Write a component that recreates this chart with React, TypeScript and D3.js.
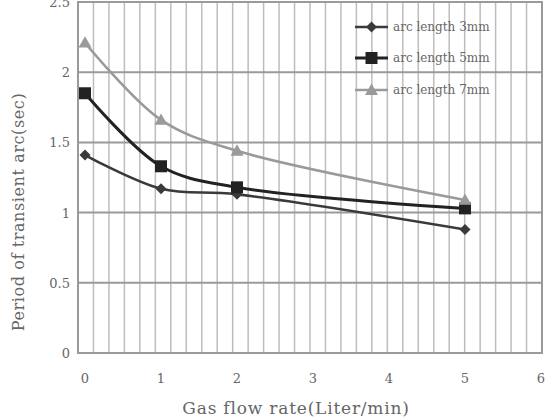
import React from "react";
import * as d3 from "d3";

const flowRates = [0, 1, 2, 5];
const arc3mm = [1.41, 1.17, 1.13, 0.88];
const arc5mm = [1.85, 1.33, 1.18, 1.03];
const arc7mm = [2.21, 1.66, 1.44, 1.09];
const seriesNames = ["arc length 3mm", "arc length 5mm", "arc length 7mm"];
const xTicks = [0, 1, 2, 3, 4, 5, 6];
const yTicks = [0, 0.5, 1, 1.5, 2, 2.5];

const W = 551;
const H = 420;
const frame = { left: 78, right: 542, top: 2, bottom: 353 };
const FONT = "'DejaVu Serif', 'Liberation Serif', serif";

export default function App() {
  const x = d3.scaleLinear().domain([0, 6]).range([85, 541]);
  const y = d3.scaleLinear().domain([0, 2.5]).range([frame.bottom, frame.top]);

  const series = [
    { name: seriesNames[0], values: arc3mm, color: "#3a3a3a", width: 2.6, marker: "diamond" },
    { name: seriesNames[1], values: arc5mm, color: "#222222", width: 3, marker: "square" },
    { name: seriesNames[2], values: arc7mm, color: "#9a9a9a", width: 2.6, marker: "triangle" },
  ];

  const line = d3
    .line<[number, number]>()
    .x((d) => x(d[0]))
    .y((d) => y(d[1]))
    .curve(d3.curveCatmullRom.alpha(0.5));

  const nV = 30;
  const vLines = d3.range(1, nV).map((i) => frame.left + ((frame.right - frame.left) * i) / nV);

  const marker = (kind: string, cx: number, cy: number, color: string, key: string) => {
    if (kind === "diamond") {
      const s = 5.5;
      return (
        <path key={key} d={`M${cx},${cy - s}L${cx + s},${cy}L${cx},${cy + s}L${cx - s},${cy}Z`} fill={color} />
      );
    }
    if (kind === "square") {
      const s = 6;
      return <rect key={key} x={cx - s} y={cy - s} width={2 * s} height={2 * s} fill={color} />;
    }
    const s = 6.5;
    return (
      <path
        key={key}
        d={`M${cx},${cy - s}L${cx + s},${cy + s * 0.75}L${cx - s},${cy + s * 0.75}Z`}
        fill={color}
      />
    );
  };

  const legendY = [27, 58, 90];

  return (
    <svg
      width={W}
      height={H}
      style={{ position: "absolute", left: 0, top: 0, background: "#fff" }}
      fontFamily={FONT}
    >
      <rect x={0} y={0} width={W} height={H} fill="#fff" />
      {vLines.map((vx, i) => (
        <line key={`v${i}`} x1={vx} x2={vx} y1={frame.top} y2={frame.bottom} stroke="#bdbdbd" strokeWidth={1.5} />
      ))}
      {yTicks.map((t) => (
        <line
          key={`h${t}`}
          x1={frame.left}
          x2={frame.right}
          y1={y(t)}
          y2={y(t)}
          stroke="#9a9a9a"
          strokeWidth={2}
        />
      ))}
      <rect
        x={frame.left}
        y={frame.top}
        width={frame.right - frame.left}
        height={frame.bottom - frame.top}
        fill="none"
        stroke="#9a9a9a"
        strokeWidth={2}
      />

      {yTicks.map((t) => (
        <text key={`yt${t}`} x={70} y={y(t) + 5} textAnchor="end" fontSize={13} fill="#666">
          {t}
        </text>
      ))}
      {xTicks.map((t) => (
        <text key={`xt${t}`} x={x(t)} y={383} textAnchor="middle" fontSize={13} fill="#666">
          {t}
        </text>
      ))}

      {series.map((s) => {
        const pts = flowRates.map((f, i) => [f, s.values[i]] as [number, number]);
        return (
          <g key={s.name}>
            <path d={line(pts) || ""} fill="none" stroke={s.color} strokeWidth={s.width} />
            {pts.map((p, i) => marker(s.marker, x(p[0]), y(p[1]), s.color, `${s.name}${i}`))}
          </g>
        );
      })}

      {series.map((s, i) => (
        <g key={`lg${i}`}>
          <line x1={355} x2={388} y1={legendY[i]} y2={legendY[i]} stroke={s.color} strokeWidth={s.width} />
          {marker(s.marker, 371.5, legendY[i], s.color, `lm${i}`)}
          <text x={393} y={legendY[i] + 4} fontSize={12} fill="#666">
            {s.name}
          </text>
        </g>
      ))}

      <text x={296} y={414} textAnchor="middle" fontSize={17} letterSpacing={0.8} fill="#666">
        Gas flow rate(Liter/min)
      </text>
      <text
        transform={`translate(24,212) rotate(-90)`}
        textAnchor="middle"
        fontSize={16}
        letterSpacing={0.6}
        fill="#666"
      >
        Period of transient arc(sec)
      </text>
    </svg>
  );
}
